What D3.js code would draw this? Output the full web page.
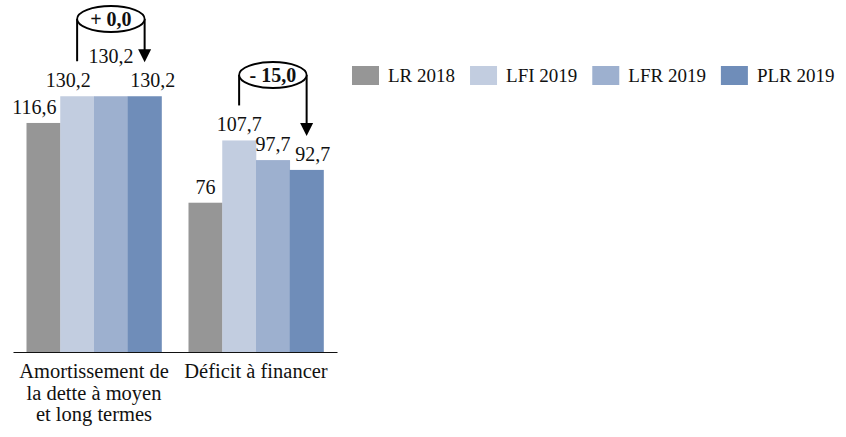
<!DOCTYPE html>
<html>
<head>
<meta charset="utf-8">
<title>Amortissement et déficit</title>
<script src="https://cdn.jsdelivr.net/npm/d3@7"></script>
<style>
  body { margin: 0; background: #fff; }
  svg text { font-family: "Book Antiqua", "Palatino Linotype", Palatino, "Liberation Serif", serif; fill: #111; }
</style>
</head>
<body>
<svg id="svg"></svg>
<script>
var categories = ["Amortissement de la dette à moyen et long termes", "Déficit à financer"];
var series = ["LR 2018", "LFI 2019", "LFR 2019", "PLR 2019"];
var values = [
  [116.6, 130.2, 130.2, 130.2],   // Amortissement
  [76, 107.7, 97.7, 92.7]          // Déficit
];
var labels = [
  ["116,6", "130,2", "130,2", "130,2"],
  ["76", "107,7", "97,7", "92,7"]
];
var colors = ["#969696", "#c2cde0", "#9db0cf", "#6f8db9"];
// écart PLR 2019 - LFI 2019
var annotations = [
  {cat: 0, from: 1, to: 3},
  {cat: 1, from: 1, to: 3}
];

var width = 846, height = 437;
var plot = {left: 13, right: 337, top: 77, bottom: 352};

// small label nudges, like the original where labels overlap
var nudge = [
  [[-9, 0], [-9, 0], [0, -24], [8, 0]],
  [[0, 0], [0, 0], [0, 0], [6, 0]]
];
var bracketY = [19, 75];

var svg = d3.select("#svg").attr("width", width).attr("height", height);

var x0 = d3.scaleBand().domain(d3.range(categories.length))
    .range([plot.left, plot.right]).paddingInner(0).paddingOuter(0);
var x1 = d3.scaleBand().domain(d3.range(series.length))
    .range([0, x0.bandwidth()]).paddingInner(0).paddingOuter(0.4);
var y = d3.scaleLinear().domain([0, 140]).range([plot.bottom, plot.top]);

// bars
var groups = svg.selectAll("g.grp").data(values).enter().append("g")
    .attr("class", "grp")
    .attr("transform", function(d, i) { return "translate(" + x0(i) + ",0)"; });

groups.selectAll("rect").data(function(d) { return d; }).enter().append("rect")
    .attr("x", function(d, j) { return x1(j); })
    .attr("y", function(d) { return y(d); })
    .attr("width", x1.bandwidth() + 0.3)
    .attr("height", function(d) { return y(0) - y(d); })
    .attr("fill", function(d, j) { return colors[j]; });

// value labels
groups.each(function(row, i) {
  d3.select(this).selectAll("text.val").data(row).enter().append("text")
    .attr("class", "val")
    .attr("x", function(d, j) { return x1(j) + x1.bandwidth() / 2 + nudge[i][j][0]; })
    .attr("y", function(d, j) { return y(d) - 9 + nudge[i][j][1]; })
    .attr("text-anchor", "middle")
    .style("font-size", "20px")
    .text(function(d, j) { return labels[i][j]; });
});

// x axis
var axisX = d3.axisBottom(x0).tickSize(0).tickFormat("");
var gx = svg.append("g").attr("transform", "translate(0," + plot.bottom + ")").call(axisX);
gx.select(".domain").attr("stroke", "#111").attr("stroke-width", 1.2);

// category labels, wrapped
categories.forEach(function(c, i) {
  var cx = x0(i) + x0.bandwidth() / 2;
  var t = svg.append("text")
      .attr("x", cx)
      .attr("y", 378)
      .attr("text-anchor", "middle")
      .style("font-size", "20.5px");
  var words = c.split(" "), line = [];
  var tspan = t.append("tspan").attr("x", cx).attr("dy", 0);
  words.forEach(function(w) {
    line.push(w);
    tspan.text(line.join(" "));
    if (tspan.node().getComputedTextLength() > 152 && line.length > 1) {
      line.pop();
      tspan.text(line.join(" "));
      line = [w];
      tspan = t.append("tspan").attr("x", cx).attr("dy", 21.5).text(w);
    }
  });
});

// legend
var lg = svg.append("g").attr("transform", "translate(352,66)");
var lx = 0;
series.forEach(function(s, j) {
  var item = lg.append("g").attr("transform", "translate(" + lx + ",0)");
  item.append("rect").attr("width", 27).attr("height", 19).attr("fill", colors[j]);
  var tx = item.append("text").attr("x", 36).attr("y", 16)
      .style("font-size", "19px").text(s);
  lx += 36 + tx.node().getComputedTextLength() + 15;
});

// annotations (brackets with the gap PLR - LFI)
var fmt = function(v) {
  var s = Math.abs(v).toFixed(1).replace(".", ",");
  return (v < 0 ? "- " : "+ ") + s;
};
annotations.forEach(function(a, k) {
  var xa = x0(a.cat) + x1(a.from) + x1.bandwidth() / 2;
  var xb = x0(a.cat) + x1(a.to) + x1.bandwidth() / 2;
  var ya = y(values[a.cat][a.from]) - 35;
  var yb = y(values[a.cat][a.to]) - 34;
  var yc = bracketY[k];
  var g = svg.append("g");
  g.append("path")
    .attr("d", "M" + xa + "," + ya + "V" + yc)
    .attr("stroke", "#000").attr("stroke-width", 2).attr("fill", "none");
  g.append("path")
    .attr("d", "M" + xb + "," + yc + "V" + (yb - 12))
    .attr("stroke", "#000").attr("stroke-width", 2).attr("fill", "none");
  g.append("path")
    .attr("d", "M" + (xb - 6.5) + "," + (yb - 13) + "L" + (xb + 6.5) + "," + (yb - 13) + "L" + xb + "," + yb + "Z")
    .attr("fill", "#000");
  g.append("ellipse")
    .attr("cx", (xa + xb) / 2).attr("cy", yc)
    .attr("rx", (xb - xa) / 2).attr("ry", 13)
    .attr("fill", "#fff").attr("stroke", "#000").attr("stroke-width", 1.8);
  g.append("text")
    .attr("x", (xa + xb) / 2).attr("y", yc + 6.5)
    .attr("text-anchor", "middle")
    .style("font-size", "20px").style("font-weight", "bold")
    .text(fmt(values[a.cat][a.to] - values[a.cat][a.from]));
});
</script>
</body>
</html>
